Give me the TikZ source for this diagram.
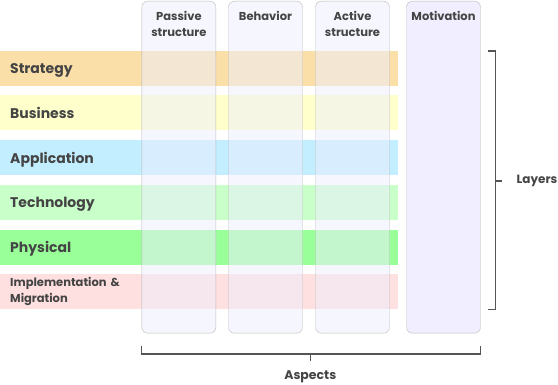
\documentclass[tikz,border=0pt]{standalone}
\usepackage{fontspec}
\setmainfont{Poppins}

\definecolor{txt}{HTML}{444444}
\definecolor{bracketgray}{HTML}{555555}
\definecolor{colline}{HTML}{BBBBBB}
\definecolor{colfill}{HTML}{EEEEFF}
\definecolor{motfill}{HTML}{F0EEFF}
\definecolor{strategyc}{HTML}{FADFA8}
\definecolor{businessc}{HTML}{FFFFCC}
\definecolor{applicationc}{HTML}{C2EEFF}
\definecolor{technologyc}{HTML}{C9FFC9}
\definecolor{physicalc}{HTML}{99FF99}
\definecolor{implementc}{HTML}{FFE0E0}

\begin{document}
\begin{tikzpicture}
  [x=1pt,y=-1pt,
   band/.style={anchor=north west,minimum width=398pt,minimum height=35pt,
     text width=378pt,inner xsep=10pt,inner ysep=0pt,align=left,text=txt,
     text depth=0pt,font=\bfseries\fontsize{14}{16}\selectfont},
   aspect/.style={anchor=north west,draw=colline,rounded corners=6pt,fill=colfill,
     fill opacity=.5,minimum width=74pt,minimum height=332pt,inner sep=0pt},
   head/.style={anchor=north,align=center,text=txt,inner sep=0pt,
     font=\bfseries\fontsize{11.5}{16}\selectfont},
   label/.style={text=txt,inner sep=0pt,font=\bfseries\fontsize{12}{14}\selectfont},
   brace/.style={draw=bracketgray,line width=1.2pt}]
  \useasboundingbox (0,0) rectangle (558,385);

  \node[band,fill=strategyc] (strategy) at (0,51) {Strategy};
  \node[band,fill=businessc] (business) at (0,95) {Business};
  \node[band,fill=applicationc] (application) at (0,140) {Application};
  \node[band,fill=technologyc] (technology) at (0,185) {Technology};
  \node[band,fill=physicalc] (physical) at (0,229.5) {Physical};
  \node[band,fill=implementc,text depth=,font=\bfseries\fontsize{11.5}{16}\selectfont]
    (implementation) at (0,274) {Implementation \&\\Migration};

  \node[aspect] (passive) at (141.7,1) {};
  \node[aspect] (behavior) at (228.3,1) {};
  \node[aspect] (active) at (315.3,1) {};
  \node[aspect,fill=motfill,fill opacity=1] (motivation) at (406.3,1) {};

  \node[head] (passivehead) at ([yshift=-10pt]passive.north) {Passive\\structure};
  \node[head] (behaviorhead) at ([yshift=-10pt]behavior.north) {Behavior};
  \node[head] (activehead) at ([yshift=-10pt]active.north) {Active\\structure};
  \node[head] (motivationhead) at ([yshift=-10pt]motivation.north) {Motivation};

  \draw[brace] ([xshift=90pt]strategy.north east) -- ++(7,0)
    |- ([xshift=90pt]implementation.south east);
  \coordinate (lmid) at (495,181);
  \draw[brace] (lmid) -- ++(7,0);
  \node[label,anchor=west] (layers) at (516.5,181) {Layers};

  \draw[brace] ([yshift=-12.6pt]passive.south west) -- ++(0,8)
    -| ([yshift=-12.6pt]motivation.south east);
  \coordinate (amid) at (310.3,353.3);
  \draw[brace] (amid) -- ++(0,7.5);
  \node[label,font=\bfseries\fontsize{12.5}{14}\selectfont] (aspects) at (310.3,377) {Aspects};
\end{tikzpicture}
\end{document}
